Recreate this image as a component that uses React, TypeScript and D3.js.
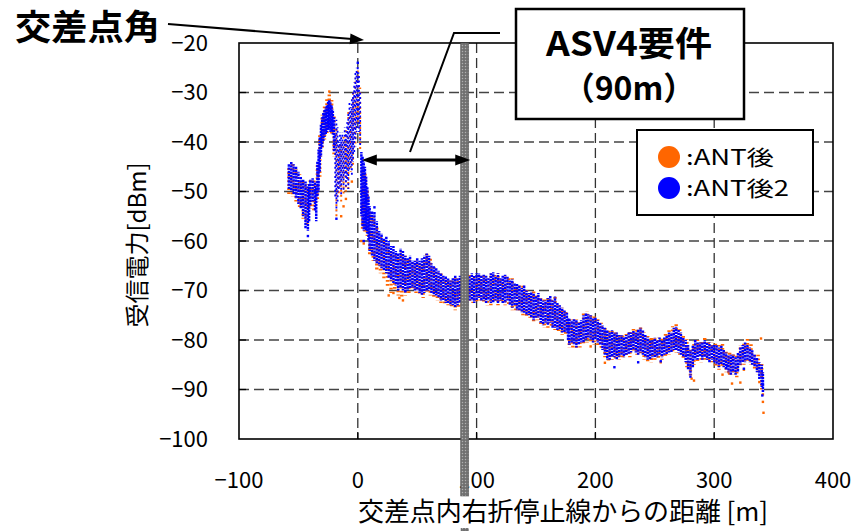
import React from "react";
import * as d3 from "d3";

// received power spread per distance sample: [distance m, low dBm, high dBm]
const blueBand: [number, number, number][] = [
  [-58, -49.5, -44.5], [-56, -50, -44], [-54, -50.5, -44.5], [-52, -51.5, -45], [-50, -52.5, -46],
  [-48, -53.5, -47], [-46, -55, -47.5], [-44, -57.5, -48], [-42, -58, -49], [-41, -56, -48.5],
  [-40, -53, -47.5], [-38, -52, -47.3], [-36, -54, -48], [-35, -56, -49], [-34, -51, -44],
  [-33, -50, -41.5], [-32, -46, -39], [-31, -43, -36.5], [-30, -41, -35], [-29, -40, -34],
  [-28, -39, -33.5], [-27, -38.5, -33], [-26, -38, -32.5], [-25, -37.5, -31.8], [-24, -37.5, -31.5],
  [-23, -38, -32], [-22, -38, -32.5], [-21, -38.5, -33.5], [-20, -42, -35],
  [3, -55, -42], [4, -57, -43], [5, -58, -44], [6, -57.5, -45], [7, -58, -47], [8, -58.5, -49],
  [9, -60, -51], [10, -62, -53], [12, -63, -54], [14, -64, -54], [16, -64.5, -56], [18, -65, -58],
  [20, -65.5, -58.5], [22, -66, -59.5], [24, -66.5, -59], [26, -67.5, -60], [28, -68, -61],
  [30, -68.5, -61], [32, -69, -62], [34, -70, -62.5], [36, -69.5, -61.5], [38, -70, -62],
  [40, -70.5, -63], [42, -70, -63.5], [44, -69.5, -63], [46, -69.5, -64], [48, -70, -64],
  [50, -70, -63.5], [52, -70.5, -64], [54, -71, -63.5], [56, -70.5, -63], [58, -70, -62.5],
  [60, -70, -63], [62, -70.5, -64.5], [64, -71, -65], [66, -71, -65.5], [68, -71.5, -66],
  [70, -72, -66.5], [72, -72, -67], [74, -72.5, -67], [76, -72.5, -67.5], [78, -73, -68],
  [80, -73, -67.5], [82, -73.5, -67], [84, -73, -67.5], [86, -72.5, -67], [88, -73, -67.5],
  [90, -73.5, -67], [92, -73, -66.5], [94, -72, -67], [96, -72, -66.5], [98, -72.5, -67],
  [100, -72, -66.5], [102, -71.5, -66.5], [104, -72, -67], [106, -72, -66.8], [108, -72.5, -67],
  [110, -72, -67.5], [112, -72.5, -66.5], [114, -72.5, -66.3], [116, -72, -67], [118, -72.5, -66.5],
  [120, -72, -67.5], [122, -72.5, -67], [124, -72.5, -66.8], [126, -72, -67.2], [128, -73, -68],
  [130, -73.5, -67.8], [132, -73, -68.5], [134, -74, -68.5], [136, -74, -69], [138, -74.5, -69.5],
  [140, -74.5, -69], [142, -75, -70], [144, -75, -70.5], [146, -75.5, -70.3], [148, -76, -70.5],
  [150, -75.5, -71], [152, -75.5, -70.5], [154, -76.5, -71.5], [156, -77, -72], [158, -76.5, -72],
  [160, -77, -71.5], [162, -76.5, -71], [164, -77.5, -72], [166, -77.5, -71.2], [168, -78, -72.5],
  [170, -78, -73], [172, -78.5, -73.5], [174, -78.5, -74], [176, -78.5, -74.5], [177, -80, -75.5],
  [178, -81, -75.5], [180, -80.5, -76], [182, -81, -75.8], [184, -81.5, -76], [186, -81, -76.5],
  [188, -80.5, -76], [190, -80.5, -75], [192, -80, -74.5], [194, -79.5, -74.8], [196, -80, -75],
  [198, -80.5, -75.5], [200, -80, -75.5], [202, -80.5, -76], [204, -81, -76.5], [206, -82, -77],
  [208, -83, -77.5], [210, -84, -78], [212, -84, -78.5], [214, -83.5, -78], [216, -83.5, -78.5],
  [218, -84, -78.5], [220, -83.5, -79], [222, -83, -79], [224, -83.5, -79.5], [226, -83, -79],
  [228, -83, -78.5], [230, -82.5, -78.5], [232, -82, -78], [234, -82.5, -78.5], [236, -83, -77.8],
  [238, -82.5, -77.5], [240, -83, -78], [242, -83.5, -79], [244, -84, -79.5], [246, -84, -80],
  [248, -83.5, -80], [250, -83.5, -79.5], [252, -83.5, -80], [254, -83, -79.5], [256, -83.5, -80],
  [258, -83, -79.5], [260, -83, -79], [262, -82.5, -78.5], [264, -82.5, -78.5], [266, -82, -77.5],
  [268, -82, -77.3], [270, -82.5, -78], [272, -83, -78.5], [274, -83.5, -79.5], [276, -84.5, -80],
  [278, -86, -81], [280, -87, -82], [282, -85.5, -81], [284, -84, -80], [286, -84, -80.5],
  [288, -83.5, -80.5], [290, -84, -80.5], [292, -83.5, -80], [294, -84, -80.5], [296, -84.5, -80.5],
  [298, -84, -81], [300, -84.5, -81], [302, -85, -81], [304, -85.5, -81.5], [306, -85, -81],
  [308, -85.5, -82], [310, -86, -82.5], [312, -86.5, -83], [314, -87, -83], [316, -86.5, -83],
  [318, -87, -83.5], [320, -86.5, -82.5], [322, -85, -81.5], [324, -84.5, -81], [326, -84.5, -80.5],
  [328, -84, -81], [330, -84.5, -81.5], [332, -85, -82], [334, -85.5, -83], [336, -86.5, -83.5],
  [338, -88, -84.5], [340, -89.5, -85], [341, -90.5, -86.5],
];

// scattered part just before the intersection corner
const blueSparse: [number, number, number][] = [
  [-19, -51, -38], [-18, -54, -35.5], [-17, -52, -37], [-16, -50, -40], [-15, -49, -38],
  [-14, -51, -39], [-13, -48, -38], [-12, -50, -40], [-11, -47, -37], [-10, -49, -38],
  [-9, -48, -36], [-8, -49.5, -34], [-7, -46, -32], [-6, -45, -33], [-5, -47, -31],
  [-4, -44, -30], [-3, -42, -28], [-2, -40, -26], [-1, -38, -25], [0, -36, -24.5],
  [1, -38, -26], [2, -41, -30],
];

const orangeBand: [number, number, number][] = [
  [-58, -50.5, -45], [-55, -51, -44.5], [-52, -52, -45.5], [-49, -53.5, -46.5], [-46, -55.5, -48],
  [-43, -57, -48.5], [-40, -53.5, -47.5], [-37, -54, -47.5], [-34, -52, -44.5], [-32, -47, -38.5],
  [-30, -41.5, -34.5], [-28, -39.5, -32.5], [-26, -38.5, -31], [-24, -37, -30], [-22, -38.5, -31.5],
  [-20, -43, -34.5],
  [4, -57.5, -45], [6, -58.5, -46], [8, -59, -49.5], [10, -63, -54], [13, -64, -55], [16, -66, -57],
  [19, -66.5, -59], [22, -67.5, -60], [25, -69.5, -60.5], [28, -70.5, -62], [31, -70, -62.5],
  [34, -71, -63], [37, -71.5, -62], [40, -71, -63], [43, -70.5, -63.5], [46, -70, -64],
  [49, -70.5, -64], [52, -71, -64.5], [55, -71.5, -63.5], [58, -70.5, -62.5], [61, -71, -63.5],
  [64, -71.5, -65], [67, -72, -66], [70, -72.5, -66.5], [73, -73, -67.5], [76, -73, -68],
  [79, -73.5, -68], [82, -74, -67.5], [85, -73.5, -67.5], [88, -73.5, -67.5], [91, -74, -67],
  [94, -72.5, -66.8], [97, -72.5, -67], [100, -72.5, -66.8], [103, -72, -67], [106, -72.5, -67],
  [109, -73, -67.5], [112, -73, -66.5], [115, -72.5, -66.8], [118, -73, -66.5], [121, -72.5, -67.5],
  [124, -73, -67], [127, -73, -67.5], [130, -74, -67.5], [133, -74, -68.5], [136, -74.5, -69],
  [139, -75, -69], [142, -75.5, -69.5], [145, -75.5, -70.5], [148, -76.5, -70.2], [151, -76, -70.8],
  [154, -77, -71.5], [157, -77.5, -71.5], [160, -77.5, -71.5], [163, -77.5, -71.5], [166, -78, -71],
  [169, -78.5, -72.5], [172, -79, -73.5], [175, -79, -74], [178, -81.5, -75.5], [181, -81.5, -75.8],
  [184, -82, -75.8], [187, -81.5, -76], [190, -81, -74.5], [193, -80.5, -74.2], [196, -80.5, -74.8],
  [199, -81, -75.2], [202, -81, -75.8], [205, -82, -76.5], [208, -83.5, -77.3], [211, -84.5, -77.8],
  [214, -84, -77.8], [217, -84, -78.3], [220, -84, -78.8], [223, -83.5, -78.8], [226, -83.5, -78.8],
  [229, -83.5, -78.2], [232, -82.5, -77.8], [235, -83, -77.5], [238, -83, -77], [241, -84, -78.5],
  [244, -84.5, -79.2], [247, -84.5, -79.5], [250, -84, -79.2], [253, -84, -79.5], [256, -84, -79.5],
  [259, -83.5, -78.8], [262, -83, -77.8], [265, -82.5, -77.2], [268, -82.5, -76.8], [271, -83, -77.5],
  [274, -84, -79], [277, -85.5, -79.8], [280, -87.5, -81.5], [283, -85, -80.3], [286, -84.5, -80],
  [289, -84.5, -80], [292, -84, -79.5], [295, -84.5, -80], [298, -84.5, -80.5], [301, -85.5, -80.5],
  [304, -86, -81], [307, -85.5, -80.5], [310, -86.5, -82], [313, -87, -82.5], [316, -87, -82.8],
  [319, -87.5, -83], [322, -85.5, -81], [325, -85, -80.5], [328, -84.5, -79.8], [331, -85, -80.5],
  [334, -86, -82.5], [337, -87, -83], [340, -90, -84.5],
];

const orangeSparse: [number, number, number][] = [
  [-18, -55, -37], [-16, -51, -40.5], [-14, -52, -40], [-12, -51, -39], [-10, -50, -37.5],
  [-8, -50, -33.5], [-6, -46, -33], [-4, -45, -30], [-2, -41, -27], [0, -36, -25.5], [2, -42, -29],
];

// isolated points [distance m, dBm]
const orangeDots: [number, number][] = [
  [341, -91], [341, -92.5], [341.5, -94.7], [338, -88.5], [283, -88.2], [281, -87.8], [307, -87],
  [315, -88.8], [322, -88.6], [312, -86.5], [325, -86], [255, -84.5], [196, -81.3], [208, -84.6],
  [26, -71], [35, -71.5], [38, -72], [30, -70.5], [-12, -53], [-10, -51.5], [-5, -48], [-14, -55],
  [3, -60], [5, -60.5], [339.4, -79.7], [-24, -29.8],
];
const blueDots: [number, number][] = [
  [280, -87.4], [216, -85.5], [236, -84.5], [-42, -59], [-18, -55.5], [5, -60], [325, -85.8],
  [311, -85.2], [255, -84.3], [341, -89], [14, -53.2], [0, -24], [340.5, -91.2],
];

const xTicks = [-100, 0, 100, 200, 300, 400];
const yTicks = [-100, -90, -80, -70, -60, -50, -40, -30, -20];
const xGrid = [0, 100, 200, 300];
const yGrid = [-90, -80, -70, -60, -50, -40, -30];
const requirement = 90;

const seriesNames = [":ANT後", ":ANT後2"];
const seriesColors = ["#ff6600", "#0000ff"];

const font = "'Noto Sans CJK JP', 'Noto Sans', sans-serif";

const fmt = (v: number) => (v < 0 ? "\u2212" + Math.abs(v) : String(v));

function arrowHead(tipX: number, tipY: number, fromX: number, fromY: number, len: number, half: number) {
  const a = Math.atan2(tipY - fromY, tipX - fromX);
  const bx = tipX - len * Math.cos(a);
  const by = tipY - len * Math.sin(a);
  const px = -Math.sin(a) * half;
  const py = Math.cos(a) * half;
  return `M${tipX},${tipY}L${bx + px},${by + py}L${bx - px},${by - py}Z`;
}

const App = () => {
  const width = 851;
  const height = 531;
  const left = 239, right = 833, top = 43, bottom = 439;

  const x = d3.scaleLinear().domain([-100, 400]).range([left, right]);
  const y = d3.scaleLinear().domain([-100, -20]).range([bottom, top]);

  // each sample drawn as a dotted vertical streak, dash phase shifted so dots don't line up
  const band = (data: [number, number, number][], color: string, w: number, dash: string, key: string) =>
    data.map((d, i) => (
      <line key={key + i} x1={x(d[0])} x2={x(d[0])} y1={y(d[1])} y2={y(d[2])}
        stroke={color} strokeWidth={w} strokeDasharray={dash} strokeDashoffset={(i * 1.7) % 3} />
    ));

  const dots = (data: [number, number][], color: string, key: string) =>
    data.map((d, i) => (
      <rect key={key + i} x={x(d[0]) - 1.2} y={y(d[1]) - 1.2} width={2.4} height={2.4} fill={color} />
    ));

  const barX = x(requirement);
  const arrowY = 160;
  const aL = x(0) + 4;
  const aR = barX + 5.5;
  const titleTop = 496, titleBottom = 528;

  return (
    <svg width={width} height={height} style={{ display: "block", position: "absolute", left: 0, top: 0 }}
      fontFamily={font}>
      <defs>
        <pattern id="hatch" width="3" height="3" patternUnits="userSpaceOnUse">
          <rect width="3" height="3" fill="#7a7a7a" />
          <rect width="1" height="1" fill="#b0b0b0" />
          <rect x="1.5" y="1.5" width="1" height="1" fill="#505050" />
        </pattern>
      </defs>
      <rect width={width} height={height} fill="#fff" />

      {/* grid */}
      {yGrid.map(v => (
        <line key={"gy" + v} x1={left} x2={right} y1={y(v)} y2={y(v)} stroke="#444" strokeWidth={1.3}
          strokeDasharray="10 5" />
      ))}
      {xGrid.map(v => (
        <line key={"gx" + v} x1={x(v)} x2={x(v)} y1={top} y2={bottom} stroke="#333" strokeWidth={1.3}
          strokeDasharray="10 5" />
      ))}

      {/* data */}
      {band(orangeBand, seriesColors[0], 3.4, "1.8 2.2", "ob")}
      {band(orangeSparse, seriesColors[0], 2, "2 3", "os")}
      {dots(orangeDots, seriesColors[0], "od")}
      {band(blueBand, seriesColors[1], 2.5, "2.4 0.8", "bb")}
      {band(blueSparse, seriesColors[1], 1.8, "2 2.6", "bs")}
      {dots(blueDots, seriesColors[1], "bd")}

      {/* frame + ticks */}
      <rect x={left} y={top} width={right - left} height={bottom - top} fill="none" stroke="#000" strokeWidth={1.6} />
      {xTicks.slice(1, -1).map(v => (
        <line key={"tx" + v} x1={x(v)} x2={x(v)} y1={bottom} y2={bottom - 7} stroke="#000" strokeWidth={1.3} />
      ))}
      {yTicks.slice(1, -1).map(v => (
        <line key={"ty" + v} x1={left} x2={left + 7} y1={y(v)} y2={y(v)} stroke="#000" strokeWidth={1.3} />
      ))}

      {yTicks.map(v => (
        <text key={"ly" + v} x={208} y={y(v)} dy="0.36em" textAnchor="end" fontSize={22} fill="#000">{fmt(v)}</text>
      ))}
      {xTicks.map(v => (
        <text key={"lx" + v} x={x(v)} y={480} dy="0.36em" textAnchor="middle" fontSize={22} fill="#000">{fmt(v)}</text>
      ))}

      {/* 90 m requirement bar, hidden behind the x title box */}
      <rect x={barX - 4} y={top} width={8} height={titleTop - top} fill="url(#hatch)" stroke="#555" strokeWidth={0.6} />
      <rect x={barX - 4} y={titleBottom} width={8} height={height - titleBottom} fill="url(#hatch)" />

      <text x={563} y={512} dy="0.36em" textAnchor="middle" fontSize={26} textLength={410}
        lengthAdjust="spacing" fill="#000">
        交差点内右折停止線からの距離 [m]
      </text>
      <text transform="translate(137,245) rotate(-90)" dy="0.36em" textAnchor="middle" fontSize={24} fill="#000">
        受信電力[dBm]
      </text>

      {/* distance arrow */}
      <line x1={aL + 12} x2={aR - 12} y1={arrowY} y2={arrowY} stroke="#000" strokeWidth={3} />
      <path d={arrowHead(aL, arrowY, aR, arrowY, 15, 5.5)} fill="#000" />
      <path d={arrowHead(aR, arrowY, aL, arrowY, 15, 5.5)} fill="#000" />

      {/* callout box */}
      <polyline points="500,33 454,33 410,152" fill="none" stroke="#000" strokeWidth={2} />
      <rect x={516} y={9} width={228} height={110} fill="#fff" stroke="#000" strokeWidth={2.5} />
      <text x={629} y={56} textAnchor="middle" fontSize={34} fontWeight="bold" textLength={166}
        lengthAdjust="spacingAndGlyphs" fill="#000">ASV4要件</text>
      <text x={629} y={100} textAnchor="middle" fontSize={32} fontWeight="bold" fill="#000">（90m）</text>

      {/* intersection corner label */}
      <text x={15} y={40} fontSize={35} fontWeight="bold" textLength={145} lengthAdjust="spacingAndGlyphs"
        fill="#000">交差点角</text>
      <line x1={168} y1={24} x2={352} y2={39} stroke="#000" strokeWidth={2.2} />
      <path d={arrowHead(364, 40, 168, 24, 14, 5.5)} fill="#000" />

      {/* legend */}
      <rect x={637} y={130} width={176} height={85} fill="#fff" stroke="#000" strokeWidth={2} />
      {seriesNames.map((n, i) => (
        <g key={n}>
          <circle cx={669} cy={157 + i * 31} r={11} fill={seriesColors[i]} />
          <text x={686} y={157 + i * 31} dy="0.36em" fontSize={21} textLength={i === 0 ? 88 : 103}
            lengthAdjust="spacingAndGlyphs" fill="#000">{n}</text>
        </g>
      ))}
    </svg>
  );
};

export default App;
